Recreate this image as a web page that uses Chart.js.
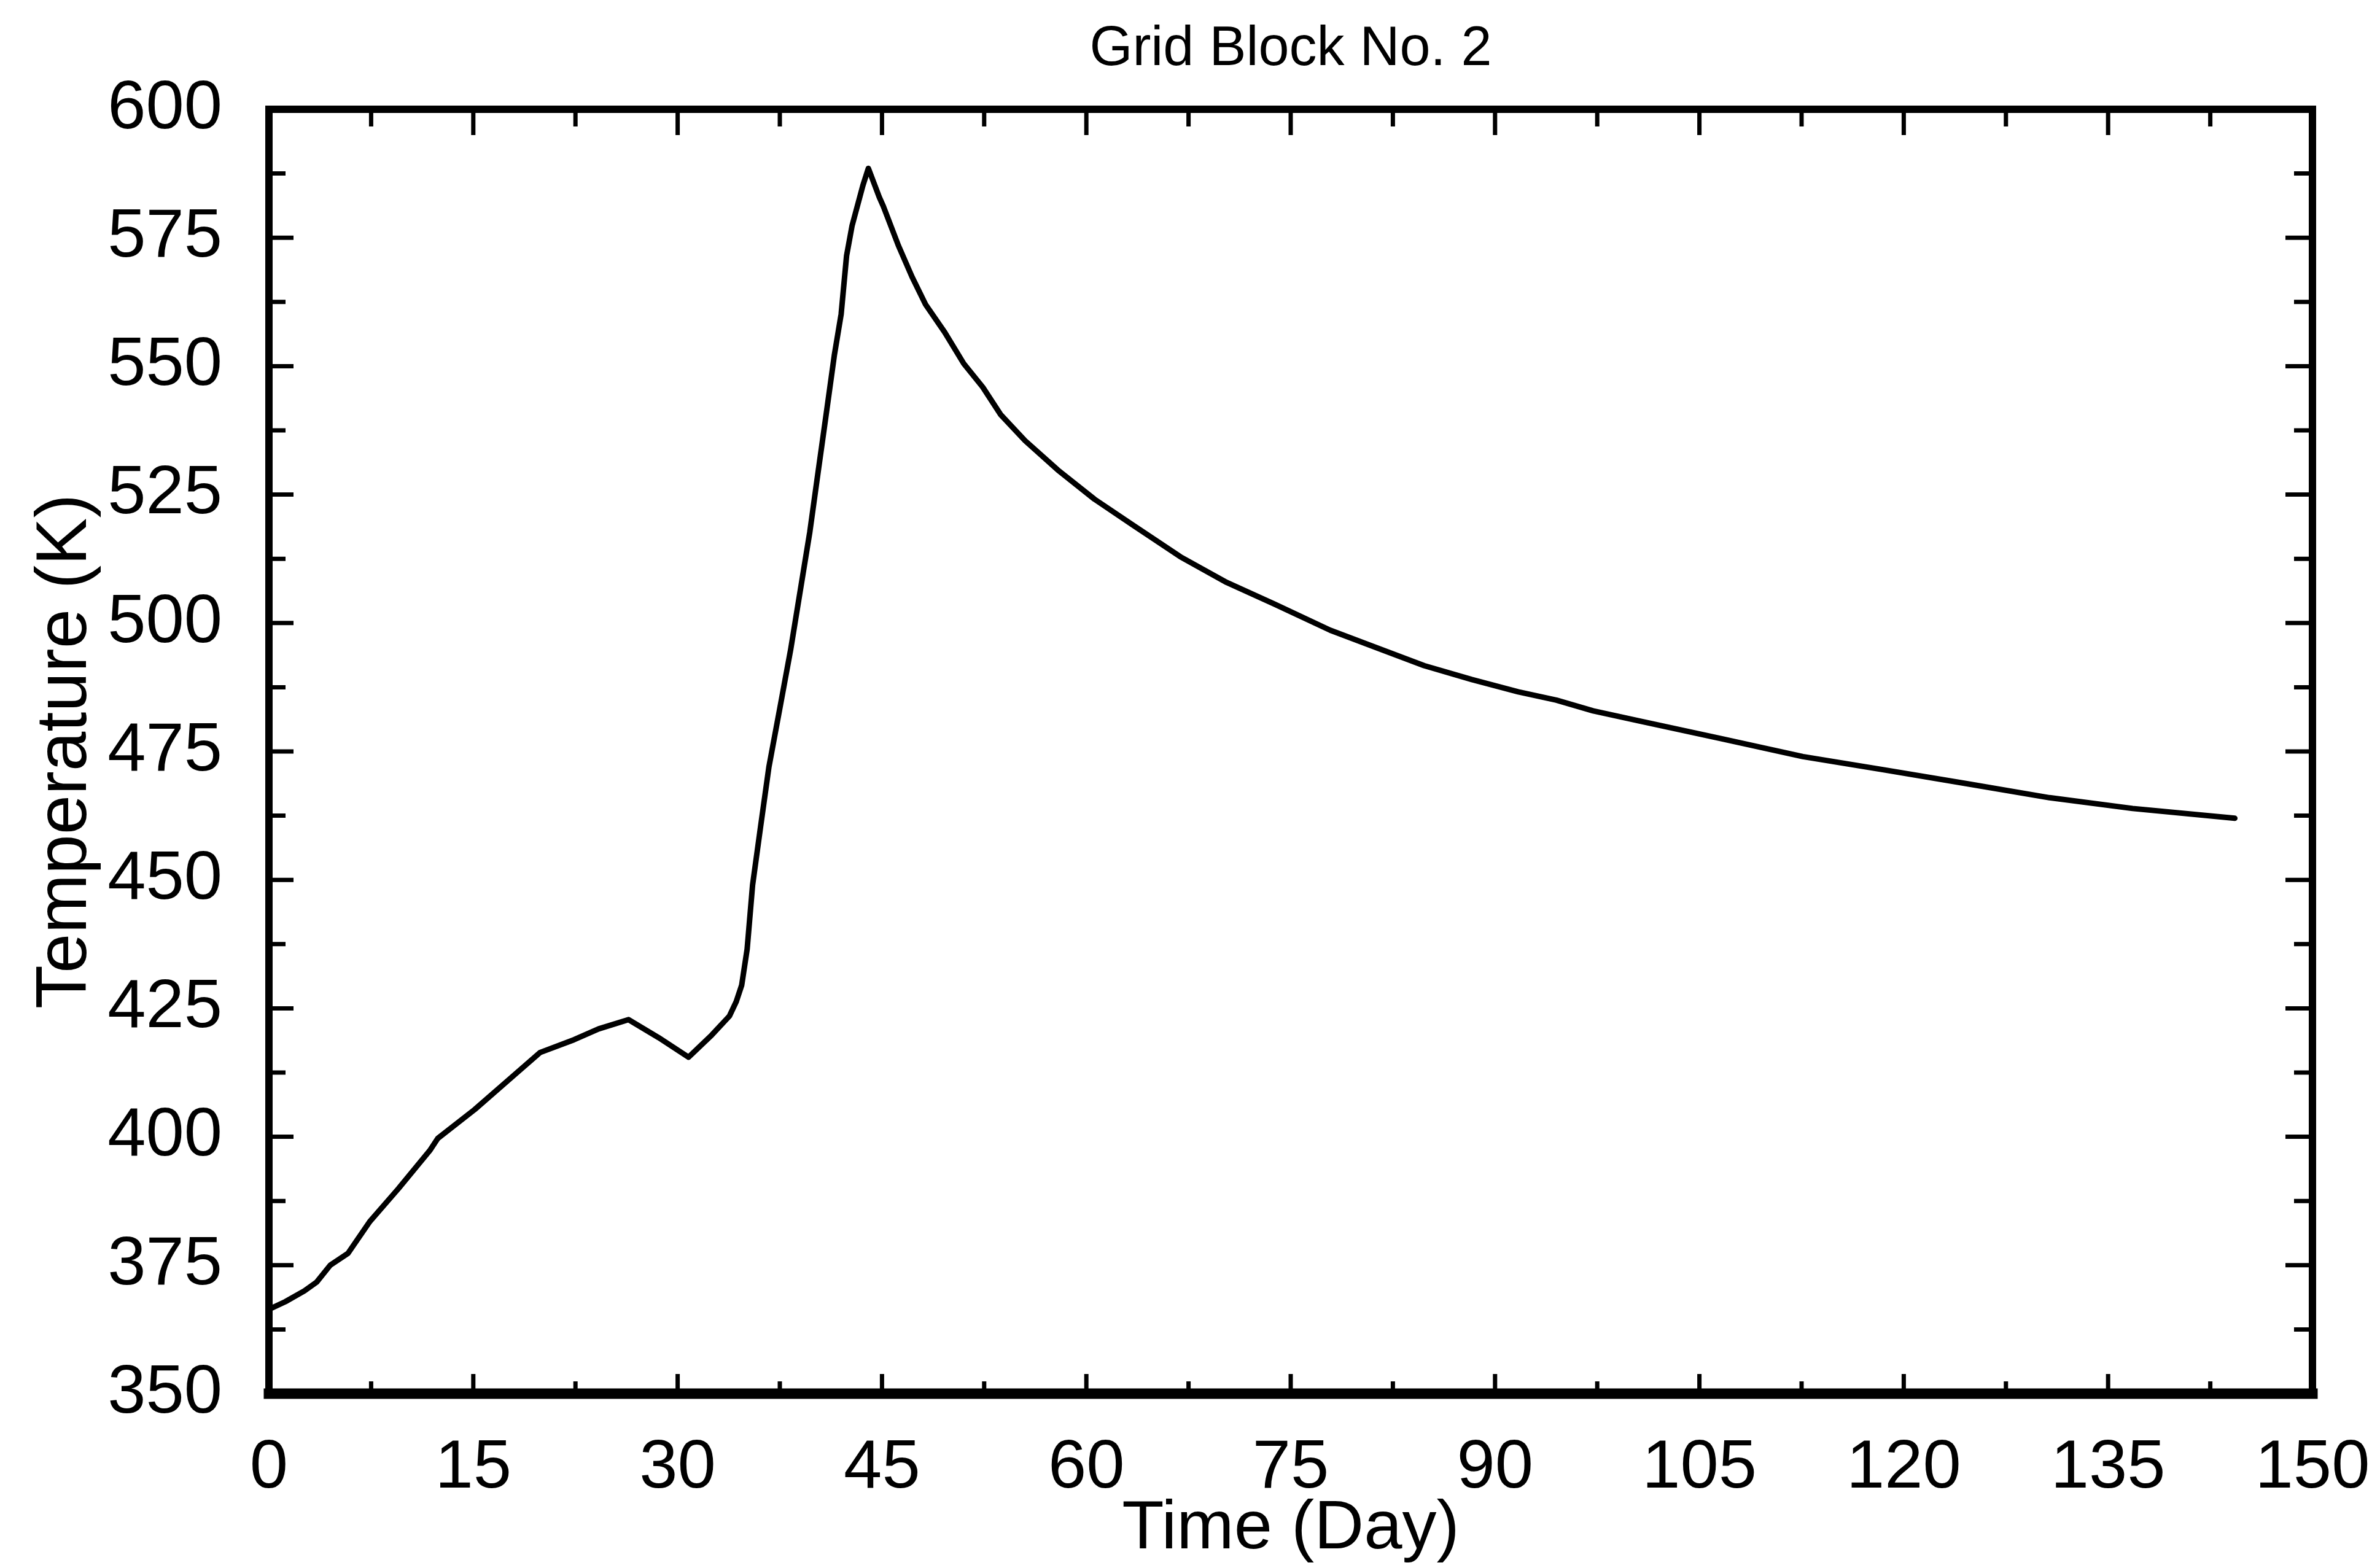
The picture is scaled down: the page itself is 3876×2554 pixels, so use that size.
<!DOCTYPE html>
<html lang="en">
<head>
  <meta charset="UTF-8" />
  <title>Grid Block No. 2</title>
  <script src="https://cdn.jsdelivr.net/npm/chart.js"></script>
  <style>
    body {
      margin: 0;
      background: #ffffff;
    }

    .wrap {
      width: 3876px;
      height: 2554px;
      position: relative;
    }
  </style>
</head>
<body>
  <div class="wrap">
    <canvas id="chart"></canvas>
  </div>

  <script>
    // values
    const days = [0, 1.2, 2.6, 3.5, 4.5, 5.8, 7.4, 9.5, 11.8, 12.4, 15.1, 18.0, 19.9, 22.4, 24.2, 26.4,
      28.6, 30.8, 32.5, 33.8, 34.3, 34.7, 35.1, 35.5, 36.1, 36.7, 37.5, 38.3, 39.0, 39.7, 40.3, 40.9,
      41.5, 42.0, 42.4, 42.8, 43.6, 44.0, 44.8, 45.1, 46.2, 47.2, 48.2, 49.6, 51.0, 52.4, 53.7, 55.5,
      57.9, 60.6, 63.4, 66.9, 70.3, 73.8, 77.9, 81.3, 84.8, 88.3, 91.7, 94.5, 97.2, 100.5, 106.6,
      112.6, 118.6, 124.7, 130.7, 136.8, 144.3];

    const temps = [366.4, 367.9, 370.0, 371.7, 375.0, 377.3, 383.5, 389.9, 397.3, 399.7, 405.3, 412.0,
      416.4, 418.9, 421.0, 422.8, 419.3, 415.5, 419.8, 423.5, 426.3, 429.5, 436.5, 449.0, 460.6, 472.0,
      483.4, 494.9, 506.3, 517.7, 529.2, 540.6, 552.1, 560.1, 571.5, 577.3, 585.2, 588.5, 582.9, 581.1,
      573.5, 567.4, 562.0, 556.6, 550.5, 545.9, 540.6, 535.5, 529.8, 524.1, 519.1, 512.9, 507.9, 503.7,
      498.6, 495.2, 491.7, 489.0, 486.6, 485.0, 482.9, 481.0, 477.5, 474.0, 471.4, 468.7, 466.0, 463.9,
      462.0];

    const xTicks = [0, 15, 30, 45, 60, 75, 90, 105, 120, 135, 150];
    const yTicks = [350, 375, 400, 425, 450, 475, 500, 525, 550, 575, 600];

    const FONT = "'Liberation Sans', Arial, sans-serif";

    // frame + inward ticks on all four sides (major and half-step minor)
    const frameTicks = {
      id: 'frameTicks',
      afterDraw(chart) {
        const { ctx, chartArea: a, scales } = chart;
        const xs = scales.x, ys = scales.y;
        ctx.save();
        ctx.strokeStyle = '#000';
        ctx.lineCap = 'butt';

        ctx.lineWidth = 7;
        xTicks.forEach((v, i) => {
          const px = xs.getPixelForValue(v);
          ctx.beginPath();
          ctx.moveTo(px, a.bottom); ctx.lineTo(px, a.bottom - 32);
          ctx.moveTo(px, a.top); ctx.lineTo(px, a.top + 42);
          ctx.stroke();
          if (i < xTicks.length - 1) {
            const m = xs.getPixelForValue((v + xTicks[i + 1]) / 2);
            ctx.beginPath();
            ctx.moveTo(m, a.bottom); ctx.lineTo(m, a.bottom - 20);
            ctx.moveTo(m, a.top); ctx.lineTo(m, a.top + 28);
            ctx.stroke();
          }
        });
        yTicks.forEach((v, i) => {
          const py = ys.getPixelForValue(v);
          ctx.beginPath();
          ctx.moveTo(a.left, py); ctx.lineTo(a.left + 40, py);
          ctx.moveTo(a.right, py); ctx.lineTo(a.right - 44, py);
          ctx.stroke();
          if (i < yTicks.length - 1) {
            const m = ys.getPixelForValue((v + yTicks[i + 1]) / 2);
            ctx.beginPath();
            ctx.moveTo(a.left, m); ctx.lineTo(a.left + 27, m);
            ctx.moveTo(a.right, m); ctx.lineTo(a.right - 30, m);
            ctx.stroke();
          }
        });

        // box
        ctx.lineCap = 'square';
        ctx.lineWidth = 12;
        ctx.beginPath();
        ctx.moveTo(a.left, a.bottom); ctx.lineTo(a.left, a.top);
        ctx.lineTo(a.right, a.top); ctx.lineTo(a.right, a.bottom);
        ctx.stroke();
        ctx.lineWidth = 17;
        ctx.beginPath();
        ctx.moveTo(a.left, a.bottom); ctx.lineTo(a.right, a.bottom);
        ctx.stroke();
        ctx.restore();
      }
    };

    new Chart(document.getElementById('chart'), {
      type: 'line',
      data: {
        datasets: [{
          data: days.map((d, i) => ({ x: d, y: temps[i] })),
          borderColor: '#000',
          borderWidth: 9,
          borderCapStyle: 'round',
          borderJoinStyle: 'round',
          pointRadius: 0,
          tension: 0,
          fill: false
        }]
      },
      options: {
        responsive: true,
        maintainAspectRatio: false,
        animation: false,
        layout: { padding: { left: 0, right: 110, top: 0, bottom: 0 } },
        plugins: {
          legend: { display: false },
          tooltip: { enabled: false },
          title: {
            display: true,
            text: 'Grid Block No. 2',
            color: '#000',
            fullSize: false,
            font: { family: FONT, size: 90, weight: 'normal', lineHeight: 1 },
            padding: { top: 36, bottom: 52 }
          }
        },
        scales: {
          x: {
            type: 'linear',
            min: 0,
            max: 150,
            afterBuildTicks: s => { s.ticks = xTicks.map(v => ({ value: v })); },
            afterFit: s => { s.height = 284; s.paddingLeft = 0; s.paddingRight = 0; },
            grid: { display: false, drawTicks: false },
            border: { display: false },
            ticks: { color: '#000', padding: 55, maxRotation: 0, autoSkip: false,
              font: { family: FONT, size: 112 } },
            title: {
              display: true,
              text: 'Time (Day)',
              color: '#000',
              font: { family: FONT, size: 112, lineHeight: 1 },
              padding: { top: 0, bottom: 7 }
            }
          },
          y: {
            type: 'linear',
            min: 350,
            max: 600,
            afterBuildTicks: s => { s.ticks = yTicks.map(v => ({ value: v })); },
            afterFit: s => { s.width = 438; s.paddingTop = 0; s.paddingBottom = 0; },
            grid: { display: false, drawTicks: false },
            border: { display: false },
            ticks: { color: '#000', padding: 76, autoSkip: false,
              font: { family: FONT, size: 112 } },
            title: {
              display: true,
              text: 'Temperature (K)',
              color: '#000',
              font: { family: FONT, size: 116, lineHeight: 1.2 },
              padding: { top: 38, bottom: 0 }
            }
          }
        }
      },
      plugins: [frameTicks]
    });
  </script>
</body>
</html>
